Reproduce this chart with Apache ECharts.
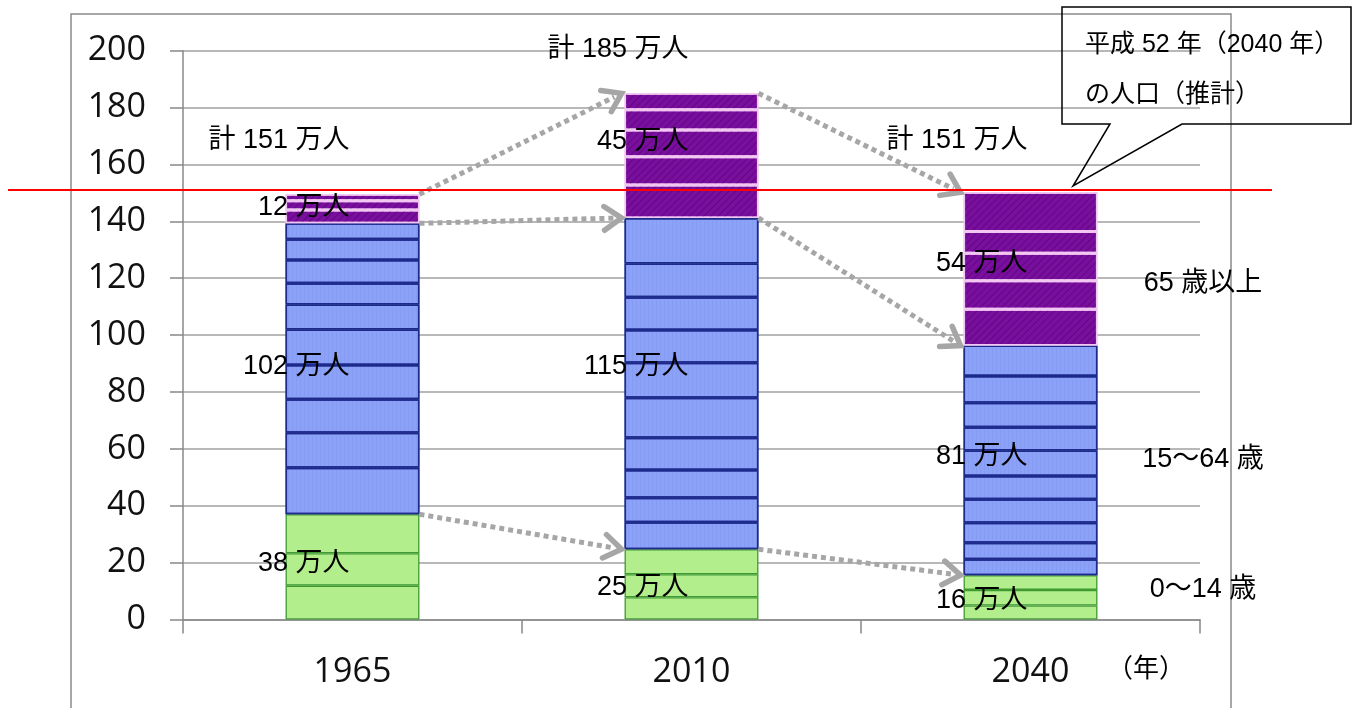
<!DOCTYPE html>
<html><head><meta charset="utf-8">
<script src="https://cdn.jsdelivr.net/npm/echarts@6/dist/echarts.min.js"></script>
<style>html,body{margin:0;padding:0;background:#fff}#c{width:1359px;height:708px}</style>
</head><body><div id="c"></div>
<script>
// ---------- DATA ----------
const years = ['1965', '2010', '2040'];
const ageGroups = ['0～4','5～9','10～14','15～19','20～24','25～29','30～34','35～39','40～44',
  '45～49','50～54','55～59','60～64','65～69','70～74','75～79','80～84','85～'];
// 5-year age-group segments (万人)
const seg1965 = [11.9, 11.4, 13.7, 16.4, 12.3, 11.7, 12.1, 12.5, 8.8, 7.4, 8.2, 7.3, 5.6, 4.7, 3.2, 2.3, null, null];
const seg2010 = [7.8, 8.1, 8.8, 9.5, 8.6, 9.8, 11.3, 14.1, 12.3, 11.5, 11.5, 11.9, 16.0, 11.6, 9.9, 9.4, 7.1, 5.8];
const seg2040 = [4.9, 5.5, 5.2, 5.6, 5.8, 7.0, 8.3, 8.2, 8.9, 8.2, 8.6, 9.4, 10.7, 12.8, 10.0, 9.7, 7.6, 13.8];
// group membership of each age segment: 0 = 0～14, 1 = 15～64, 2 = 65+
const groupOf = [0,0,0, 1,1,1,1,1,1,1,1,1,1, 2,2,2,2,2];
// labelled totals (万人)
const youngTotals = [38, 25, 16];
const workingTotals = [102, 115, 81];
const elderlyTotals = [12, 45, 54];
const grandTotals = [151, 185, 151];
const groupNames = ['0～14 歳', '15～64 歳', '65 歳以上'];
const referenceLine = 151;

// ---------- LAYOUT (label anchors in axis units) ----------
const totalLabelY = [168.5, 200.5, 168.5];
const groupLabelY = [[19.8, 11.4, 6.8], [88.8, 88.8, 57.2], [145.0, 168.0, 125.0]];
const sideLabelY = [10.4, 56.2, 118.3];

// ---------- STYLES ----------
const groupStyle = [
  { color: '#b3ee8c', borderColor: '#3f9a30', borderWidth: 1.3 },
  { color: '#8ba2f6', borderColor: '#1c2a8c', borderWidth: 1.5,
    decal: { symbol: 'rect', symbolSize: 1, dashArrayX: [1, 3], dashArrayY: [4, 0], color: 'rgba(110,130,235,0.18)' } },
  { color: '#7a0f9f', borderColor: '#f2c6f2', borderWidth: 1.5,
    decal: { symbol: 'rect', symbolSize: 1, dashArrayX: [1, 0], dashArrayY: [1, 4], rotation: -Math.PI / 4, color: 'rgba(70,0,95,0.5)' } }
];
const segs = [seg1965, seg2010, seg2040];

const chart = echarts.init(document.getElementById('c'), null, { renderer: 'canvas' });
const series = ageGroups.map((name, i) => ({
  type: 'bar', name, stack: 'pop', barWidth: '39.5%',
  data: [seg1965[i], seg2010[i], seg2040[i]],
  itemStyle: groupStyle[groupOf[i]],
  emphasis: { disabled: true },
  animation: false
}));

chart.setOption({
  animation: false,
  grid: { left: 183, right: 159, top: 50.7, bottom: 88.5, containLabel: false },
  xAxis: {
    type: 'category', data: years,
    axisLine: { lineStyle: { color: '#888', width: 1.5 } },
    axisTick: { show: true, length: 14, alignWithLabel: false, lineStyle: { color: '#888', width: 1.5 } },
    axisLabel: { fontSize: 34, fontFamily: 'Open Sans', color: '#111', margin: 36 }
  },
  yAxis: {
    type: 'value', min: 0, max: 200, interval: 20,
    axisLine: { show: true, lineStyle: { color: '#888', width: 1.5 } },
    axisTick: { show: true, length: 13, lineStyle: { color: '#888', width: 1.5 } },
    axisLabel: { fontSize: 34, fontFamily: 'Open Sans', color: '#111', margin: 37 },
    splitLine: { lineStyle: { color: '#a0a0a0', width: 1.5 } }
  },
  series
});

// ---------- ANNOTATIONS (positions via the chart's own scales) ----------
const px = (ci, v) => chart.convertToPixel({ xAxisIndex: 0, yAxisIndex: 0 }, [ci, v]);
const catW = px(1, 0)[0] - px(0, 0)[0];
const halfBar = catW * 0.395 / 2;
const groupTop = (g, yi) => {
  let s = 0;
  for (let i = 0; i < ageGroups.length; i++) { if (groupOf[i] <= g && segs[yi][i] != null) s += segs[yi][i]; }
  return s;
};
const FONT = '"Liberation Sans","Noto Sans CJK JP",sans-serif';
const txt = (x, y, text, align, size) => ({
  type: 'text', x, y, z: 20,
  style: { text, fontSize: size || 27, fontFamily: FONT, fill: '#000', align: align || 'right', verticalAlign: 'middle' }
});
const graphics = [];
// outer frame
graphics.push({ type: 'rect', z: 1, shape: { x: 71, y: 14, width: 1160, height: 720 },
  style: { fill: 'none', stroke: '#8a8a8a', lineWidth: 1.5 } });
// arrows
const AR = '#a6a6a6';
for (let yi = 0; yi < 2; yi++) {
  for (let g = 0; g < 3; g++) {
    const a = px(yi, groupTop(g, yi)); const b = px(yi + 1, groupTop(g, yi + 1));
    const x1 = a[0] + halfBar, y1 = a[1], x2 = b[0] - halfBar - 3, y2 = b[1];
    const ang = Math.atan2(y2 - y1, x2 - x1);
    const L = 21, sp = 0.6;
    const p1 = [x2 - L * Math.cos(ang - sp), y2 - L * Math.sin(ang - sp)];
    const p2 = [x2 - L * Math.cos(ang + sp), y2 - L * Math.sin(ang + sp)];
    graphics.push({ type: 'line', z: 15, shape: { x1, y1, x2: x2 - 8 * Math.cos(ang), y2: y2 - 8 * Math.sin(ang) },
      style: { stroke: AR, lineWidth: 5, lineDash: [5, 4] } });
    graphics.push({ type: 'polyline', z: 15, shape: { points: [p1, [x2, y2], p2] },
      style: { stroke: AR, lineWidth: 5.5, fill: null, lineJoin: 'miter', lineCap: 'round' } });
  }
}
// red reference line
const ry = px(0, referenceLine)[1];
graphics.push({ type: 'line', z: 18, shape: { x1: 8, y1: ry, x2: 1272, y2: ry }, style: { stroke: '#ff0000', lineWidth: 2 } });
// labels inside / above bars
const groupTotals = [youngTotals, workingTotals, elderlyTotals];
for (let yi = 0; yi < 3; yi++) {
  const c = px(yi, totalLabelY[yi]);
  graphics.push(txt(c[0] - 3, c[1], '計 ' + grandTotals[yi] + ' 万人'));
  for (let g = 0; g < 3; g++) {
    const p = px(yi, groupLabelY[g][yi]);
    graphics.push(txt(p[0] - 3, p[1], groupTotals[g][yi] + ' 万人'));
  }
}
// side group names
const rightX = px(2, 0)[0] + catW / 2;
for (let g = 0; g < 3; g++) {
  graphics.push(txt(rightX + 3, px(0, sideLabelY[g])[1], groupNames[g], 'center'));
}
// unit label
graphics.push(txt(1146, 670, '（年）', 'center', 26));
// callout
graphics.push({ type: 'polygon', z: 19, shape: { points: [[1062, 7], [1351, 7], [1351, 124], [1182, 124], [1073, 186], [1110, 124], [1062, 124]] },
  style: { fill: 'none', stroke: '#000', lineWidth: 1.5 } });
graphics.push(txt(1085, 45, '平成 52 年（2040 年）', 'left', 25));
graphics.push(txt(1085, 95, 'の人口（推計）', 'left', 25));

chart.setOption({ graphic: graphics });
</script>
</body></html>
